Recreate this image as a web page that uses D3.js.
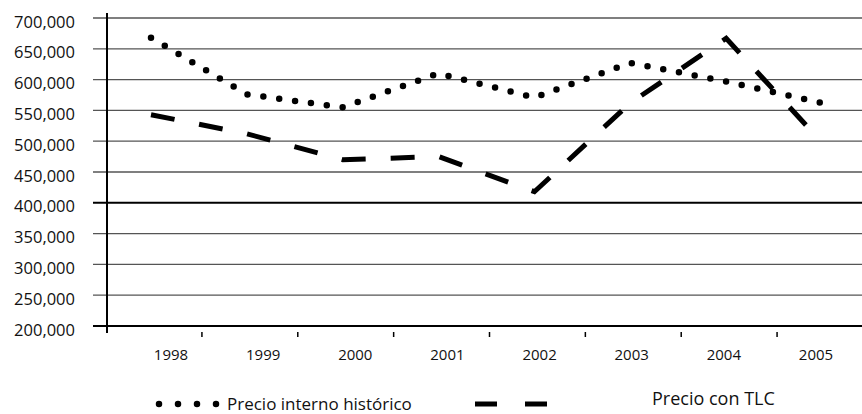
<!DOCTYPE html>
<html>
<head>
<meta charset="utf-8">
<script src="https://cdn.jsdelivr.net/npm/d3@7"></script>
<style>
  body { margin: 0; background: #fff; }
  svg { display: block; font-family: "Open Sans", sans-serif; }
</style>
</head>
<body>
<svg id="chart" width="862" height="414"></svg>
<script>
// data
const years = ["1998", "1999", "2000", "2001", "2002", "2003", "2004", "2005"];
const historico = [668000, 576000, 555000, 610000, 571000, 627000, 597000, 562000];
const tlc = [543000, 512000, 470000, 475000, 418000, 562000, 667000, 498000];
const yTicks = [200000, 250000, 300000, 350000, 400000, 450000, 500000, 550000, 600000, 650000, 700000];
const legendNames = ["Precio  interno histórico", "Precio con TLC"];

const svg = d3.select("#chart");
const plotLeft = 107, plotRight = 862, plotTop = 18, plotBottom = 326;

const x = d3.scalePoint().domain(years).range([151, 822]);
const xLabel = d3.scalePoint().domain(years).range([171, 816]); // labels sit a bit off the data points
const y = d3.scaleLinear().domain([200000, 700000]).range([plotBottom, plotTop]);
const fmt = d3.format(",");

// grid lines (reach left of the axis as ticks)
svg.append("g")
  .selectAll("line")
  .data(yTicks.slice(1))
  .join("line")
  .attr("x1", 93).attr("x2", plotRight)
  .attr("y1", d => y(d)).attr("y2", d => y(d))
  .attr("stroke", d => d === 400000 ? "#000" : "#555")
  .attr("stroke-width", d => d === 400000 ? 2 : 1.3);

// y labels
svg.append("g")
  .selectAll("text")
  .data(yTicks)
  .join("text")
  .attr("x", 75)
  .attr("y", d => y(d) + 3)
  .attr("text-anchor", "end")
  .attr("dominant-baseline", "central")
  .attr("font-size", 16.5)
  .attr("fill", "#111")
  .text(d => fmt(d));

// axes
svg.append("line")
  .attr("x1", 93).attr("x2", plotRight)
  .attr("y1", plotBottom).attr("y2", plotBottom)
  .attr("stroke", "#000").attr("stroke-width", 2.2);
svg.append("line")
  .attr("x1", plotLeft).attr("x2", plotLeft)
  .attr("y1", 13).attr("y2", plotBottom + 7)
  .attr("stroke", "#000").attr("stroke-width", 2);

// small x ticks between years
const tickPos = years.slice(1).map((d, i) => (x(years[i]) + x(d)) / 2 + 3);
svg.append("g")
  .selectAll("line")
  .data(tickPos)
  .join("line")
  .attr("x1", d => d).attr("x2", d => d)
  .attr("y1", plotBottom + 6).attr("y2", plotBottom + 11)
  .attr("stroke", "#000").attr("stroke-width", 1.5);

svg.append("g")
  .selectAll("text")
  .data(years)
  .join("text")
  .attr("x", d => xLabel(d))
  .attr("y", 360)
  .attr("text-anchor", "middle")
  .attr("font-size", 15)
  .attr("fill", "#111")
  .text(d => d);

// series
const line = d3.line()
  .x((d, i) => x(years[i]))
  .y(d => y(d));

svg.append("path")
  .attr("d", line(historico))
  .attr("fill", "none")
  .attr("stroke", "#000")
  .attr("stroke-width", 6.5)
  .attr("stroke-linecap", "round")
  .attr("stroke-dasharray", "0,16");

svg.append("path")
  .attr("d", line(tlc))
  .attr("fill", "none")
  .attr("stroke", "#000")
  .attr("stroke-width", 5)
  .attr("stroke-dasharray", "24,25");

// legend
svg.append("line")
  .attr("x1", 159).attr("x2", 218)
  .attr("y1", 404).attr("y2", 404)
  .attr("stroke", "#000")
  .attr("stroke-width", 6.5)
  .attr("stroke-linecap", "round")
  .attr("stroke-dasharray", "0,19");
svg.append("text")
  .attr("x", 227).attr("y", 410)
  .attr("font-size", 17)
  .attr("fill", "#111")
  .text(legendNames[0]);

svg.append("line")
  .attr("x1", 475).attr("x2", 547)
  .attr("y1", 404).attr("y2", 404)
  .attr("stroke", "#000")
  .attr("stroke-width", 5)
  .attr("stroke-dasharray", "22,28");
svg.append("text")
  .attr("x", 652).attr("y", 405)
  .attr("font-size", 18)
  .attr("fill", "#111")
  .text(legendNames[1]);
</script>
</body>
</html>
